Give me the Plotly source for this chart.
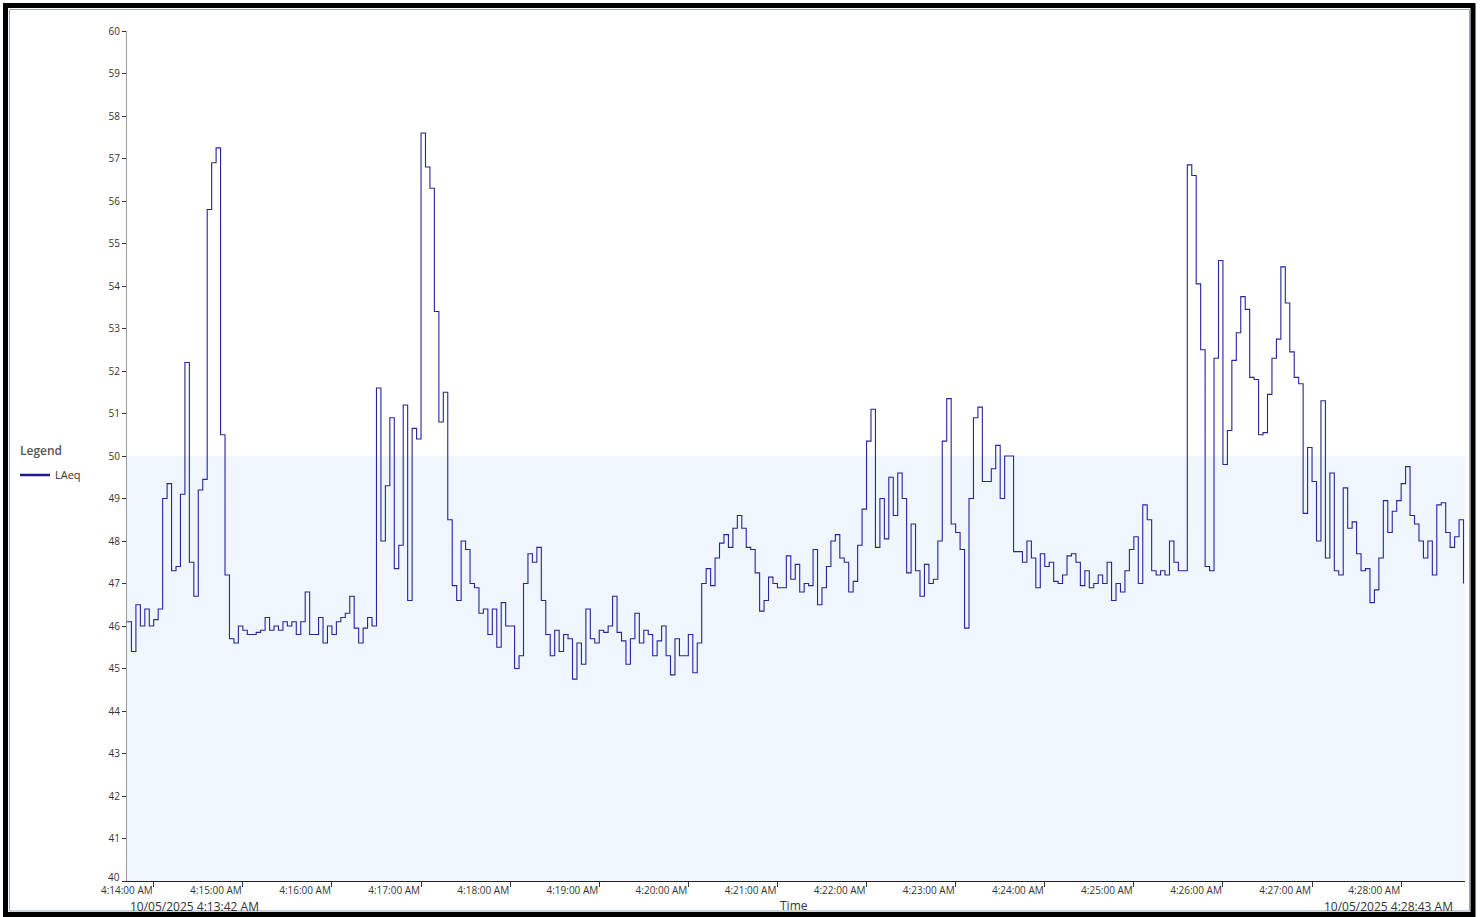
import plotly.graph_objects as go
import pandas as pd

# ---------------- data ----------------
START = "2025-10-05 04:13:42"
END = "2025-10-05 04:28:43"
STEP_SECONDS = 3
SERIES_NAME = "LAeq"
THRESHOLD_LOW = 40
THRESHOLD_HIGH = 50
Y_MIN, Y_MAX = 40, 60
Y_TICKS = list(range(Y_MIN, Y_MAX + 1))
X_TITLE = "Time"
LEGEND_TITLE = "Legend"
START_LABEL = "10/05/2025 4:13:42 AM"
END_LABEL = "10/05/2025 4:28:43 AM"

laeq = [
    46.1, 45.4, 46.5, 46.0, 46.4, 46.0, 46.15, 46.4, 49.0, 49.35,
    47.3, 47.4, 49.1, 52.2, 47.5, 46.7, 49.2, 49.45, 55.8, 56.9,
    57.25, 50.5, 47.2, 45.7, 45.6, 46.0, 45.9, 45.8, 45.8, 45.85,
    45.9, 46.2, 45.9, 46.0, 45.9, 46.1, 46.0, 46.1, 45.8, 46.1,
    46.8, 45.8, 45.8, 46.2, 45.6, 46.0, 45.8, 46.1, 46.2, 46.3,
    46.7, 45.95, 45.6, 45.95, 46.2, 46.0, 51.6, 48.0, 49.3, 50.9,
    47.35, 47.9, 51.2, 46.6, 50.65, 50.4, 57.6, 56.8, 56.3, 53.4,
    50.8, 51.5, 48.5, 46.95, 46.6, 48.0, 47.8, 47.0, 46.9, 46.3,
    46.4, 45.8, 46.4, 45.5, 46.55, 46.0, 46.0, 45.0, 45.3, 47.0,
    47.7, 47.5, 47.85, 46.6, 45.8, 45.3, 45.9, 45.4, 45.8, 45.7,
    44.75, 45.6, 45.1, 46.4, 45.7, 45.6, 45.9, 45.85, 46.0, 46.7,
    45.85, 45.65, 45.1, 45.7, 46.3, 45.6, 45.9, 45.8, 45.3, 45.65,
    46.0, 45.3, 44.85, 45.7, 45.3, 45.3, 45.8, 44.9, 45.6, 47.0,
    47.35, 46.95, 47.6, 47.95, 48.15, 47.85, 48.3, 48.6, 48.3, 47.85,
    47.8, 47.25, 46.35, 46.6, 47.15, 47.0, 46.9, 46.9, 47.65, 47.1,
    47.45, 46.8, 47.0, 46.95, 47.8, 46.5, 46.9, 47.4, 48.0, 48.15,
    47.6, 47.5, 46.8, 47.05, 47.9, 48.75, 50.35, 51.1, 47.85, 49.0,
    48.05, 49.5, 48.6, 49.6, 49.0, 47.25, 48.4, 47.3, 46.7, 47.45,
    47.0, 47.1, 48.0, 50.35, 51.35, 48.4, 48.2, 47.8, 45.95, 49.0,
    50.9, 51.15, 49.4, 49.4, 49.7, 50.25, 49.0, 50.0, 50.0, 47.75,
    47.75, 47.5, 48.0, 47.6, 46.9, 47.7, 47.4, 47.5, 47.05, 47.0,
    47.2, 47.65, 47.7, 47.5, 46.95, 47.3, 46.9, 47.0, 47.2, 47.0,
    47.5, 46.6, 47.0, 46.8, 47.3, 47.8, 48.1, 47.0, 48.85, 48.5,
    47.3, 47.2, 47.3, 47.2, 48.0, 47.5, 47.3, 47.3, 56.85, 56.6,
    54.05, 52.5, 47.4, 47.3, 52.3, 54.6, 49.8, 50.6, 52.25, 52.9,
    53.75, 53.45, 51.85, 51.8, 50.5, 50.55, 51.45, 52.3, 52.75, 54.45,
    53.6, 52.45, 51.85, 51.7, 48.65, 50.2, 49.4, 48.0, 51.3, 47.6,
    49.6, 47.3, 47.2, 49.25, 48.3, 48.45, 47.7, 47.3, 47.35, 46.55,
    46.85, 47.6, 48.95, 48.2, 48.7, 48.95, 49.35, 49.75, 48.6, 48.4,
    48.0, 47.6, 48.0, 47.2, 48.85, 48.9, 48.2, 47.85, 48.1, 48.5,
    47.0,
]

times = pd.date_range(START, periods=len(laeq), freq=f"{STEP_SECONDS}s")

# ---------------- layout geometry (pixels) ----------------
W, H = 1480, 917
ML, MR, MT, MB = 127, 15, 31, 36
PW, PH = W - ML - MR, H - MT - MB


def px(xp):
    return (xp - ML) / PW


def py(yp):
    return (H - MB - yp) / PH


LINE_COLOR = "#25259c"
FONT = "Open Sans"
TICK_FONT = dict(family=FONT, size=10, color="#333")

fig = go.Figure()

fig.add_trace(go.Scatter(
    x=times, y=laeq, mode="lines", name=SERIES_NAME,
    line=dict(color=LINE_COLOR, width=1.1, shape="hv"),
    showlegend=False, hoverinfo="x+y",
))
# legend entry (thicker sample line, as in the original legend)
fig.add_trace(go.Scatter(
    x=[None], y=[None], mode="lines", name=SERIES_NAME,
    line=dict(color="#1c1c8e", width=2.5), showlegend=True,
))

shapes = [
    # threshold band
    dict(type="rect", xref="paper", yref="y", x0=0, x1=1,
         y0=THRESHOLD_LOW, y1=THRESHOLD_HIGH,
         fillcolor="#F0F6FD", line=dict(width=0), layer="below"),
    # outer black frame
    dict(type="rect", xref="paper", yref="paper",
         x0=px(5.5), x1=px(1473), y0=py(5.5), y1=py(914.5),
         line=dict(color="black", width=5), fillcolor="rgba(0,0,0,0)",
         layer="above"),
    # inner thin frame
    dict(type="rect", xref="paper", yref="paper",
         x0=px(9.5), x1=px(1469.5), y0=py(9.5), y1=py(911),
         line=dict(color="#9ba6b6", width=1), fillcolor="rgba(0,0,0,0)",
         layer="above"),
]

ann_font = dict(family=FONT, size=12, color="#333")
annotations = [
    dict(text=LEGEND_TITLE, xref="paper", yref="paper", x=px(18), y=py(450),
         xanchor="left", yanchor="middle", showarrow=False,
         font=dict(family=FONT, size=12, color="#555", weight=600)),
    # lowest y label sits slightly raised above the corner, as in the original
    dict(text=str(Y_MIN), xref="paper", yref="y", x=px(121), y=Y_MIN,
         yshift=4, xanchor="right", yanchor="middle", showarrow=False,
         borderpad=0, font=TICK_FONT),
    dict(text=START_LABEL, xref="paper", yref="paper", x=px(129), y=py(906.5),
         xanchor="left", yanchor="middle", showarrow=False, borderpad=0,
         font=ann_font),
    dict(text=X_TITLE, xref="paper", yref="paper", x=px(793.5), y=py(905.5),
         xanchor="center", yanchor="middle", showarrow=False, borderpad=0,
         font=ann_font),
    dict(text=END_LABEL, xref="paper", yref="paper", x=px(1454), y=py(906.5),
         xanchor="right", yanchor="middle", showarrow=False, borderpad=0,
         font=ann_font),
]

fig.update_layout(
    width=W, height=H,
    margin=dict(l=ML, r=MR, t=MT, b=MB),
    paper_bgcolor="white", plot_bgcolor="white",
    font=dict(family=FONT, size=10, color="#333"),
    shapes=shapes, annotations=annotations,
    legend=dict(
        x=px(15), y=py(475), xanchor="left", yanchor="middle",
        font=dict(family=FONT, size=11, color="#333"),
        bgcolor="rgba(0,0,0,0)", itemwidth=30,
    ),
    xaxis=dict(
        type="date", range=[START, END],
        tick0="2025-10-05 04:14:00", dtick=60000,
        tickformat="%-I:%M:%S %p",
        ticks="outside", ticklen=5, tickcolor="#333", tickwidth=1,
        ticklabelposition="outside left", ticklabelstandoff=0,
        showline=True, linecolor="#222", linewidth=1,
        showgrid=False, zeroline=False,
        tickfont=TICK_FONT,
    ),
    yaxis=dict(
        range=[Y_MIN, Y_MAX], tickmode="array", tickvals=Y_TICKS,
        ticktext=["" if v == Y_MIN else str(v) for v in Y_TICKS],
        ticks="outside", ticklen=4, tickcolor="#333", tickwidth=1,
        showline=True, linecolor="#999", linewidth=1,
        showgrid=False, zeroline=False,
        tickfont=TICK_FONT,
    ),
)

fig.write_html("out.html", config={"displayModeBar": False},
               post_script="document.body.style.margin='0';")
